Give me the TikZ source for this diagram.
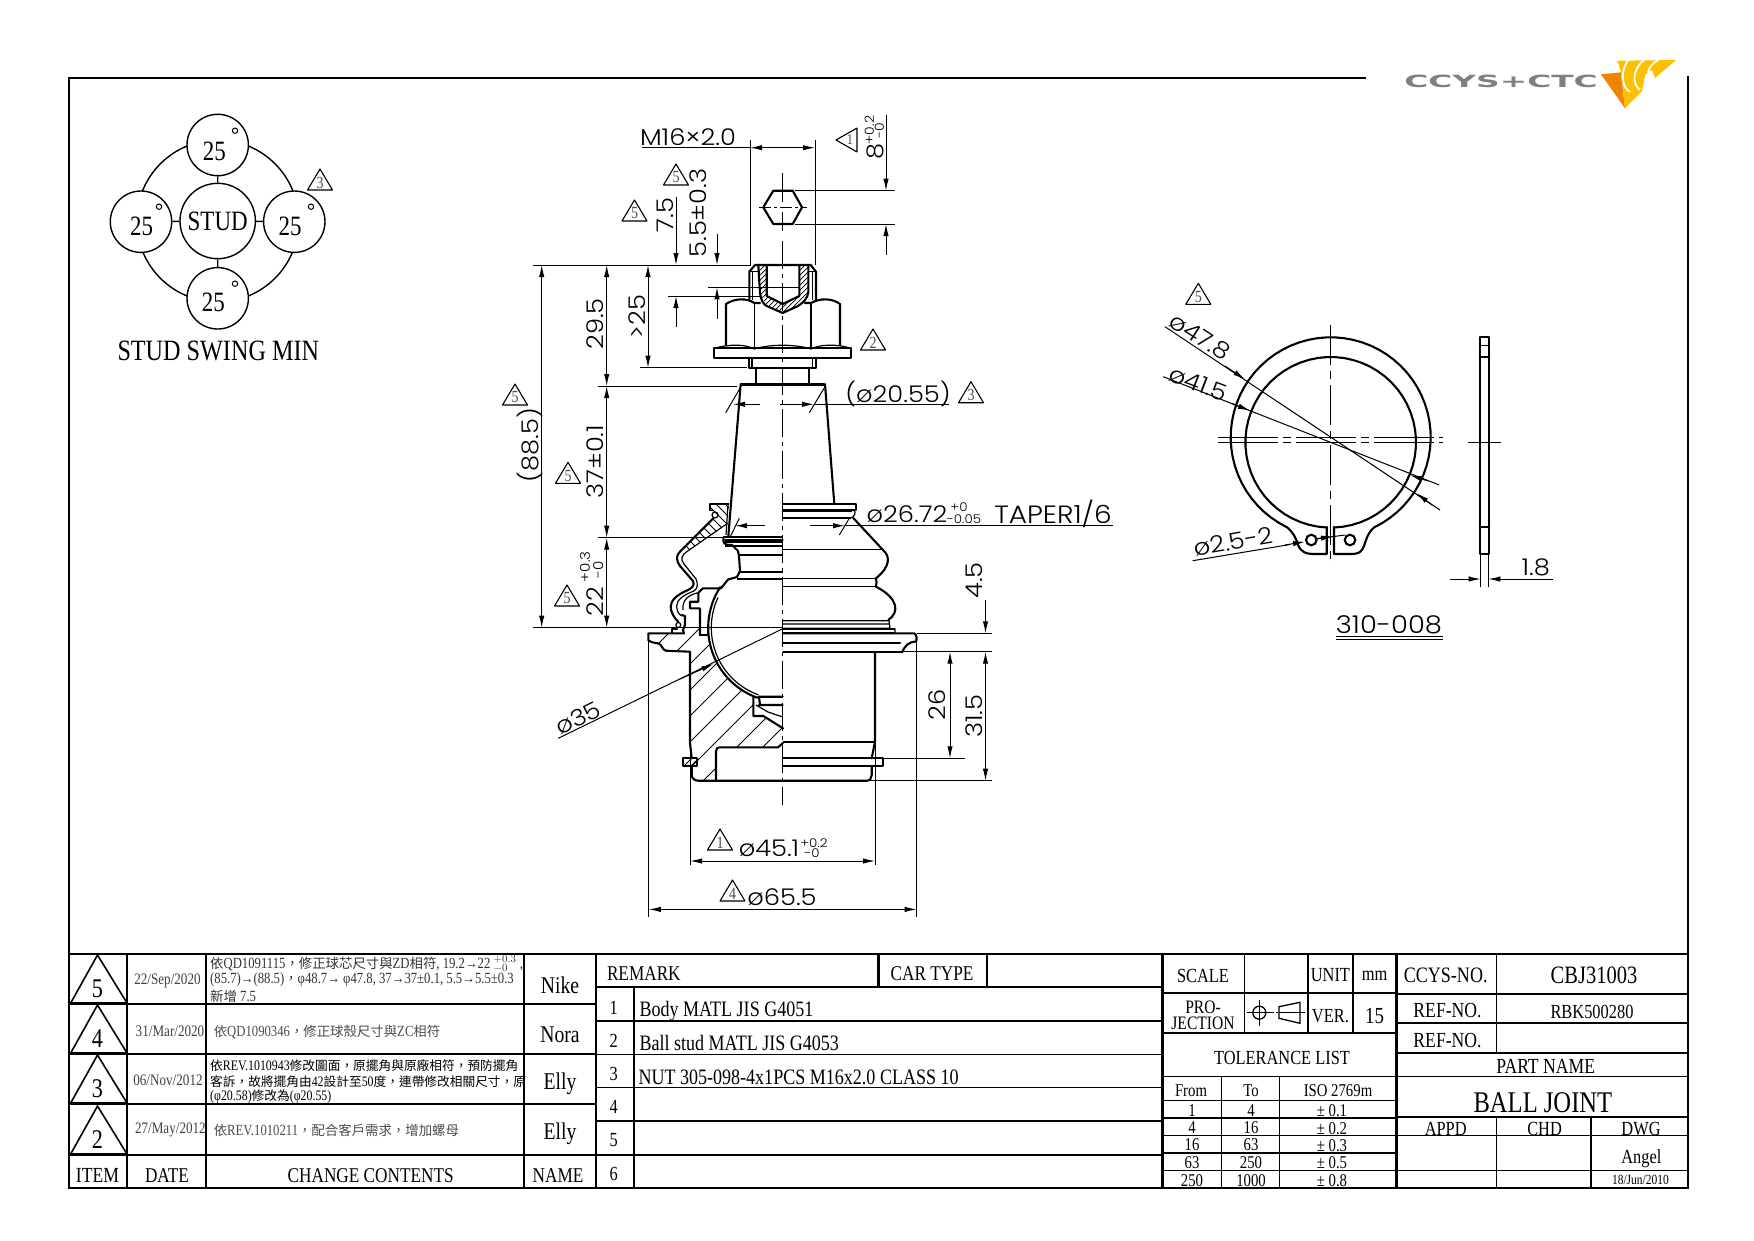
\documentclass[tikz,border=0pt]{standalone}
\usepackage{fontspec}
\setmainfont[FakeStretch=0.82]{Liberation Serif}
\newfontfamily\cjk{Noto Sans CJK TC}
\newfontfamily\cad[FakeStretch=1.12]{Poppins Light}
\newfontfamily\logofont{DejaVu Sans}
\usetikzlibrary{arrows.meta,calc}
\newcommand\T[4]{\node[inner sep=0pt,font=\fontsize{#1}{#1}\selectfont] at (#2,#3) {#4};}
\newcommand\TL[4]{\node[inner sep=0pt,anchor=west,font=\fontsize{#1}{#1}\selectfont] at (#2,#3) {#4};}
\newcommand\CD[5][0]{\node[inner sep=0pt,rotate=#1,font=\cad\fontsize{#2}{#2}\selectfont] at (#3,#4) {#5};}
\newcommand\cj[1]{{\cjk\fontsize{13.4}{13.4}\selectfont #1}}
\newcommand\cjb[1]{{\cjk\fontsize{12.7}{12.7}\selectfont #1}}
\newcommand\rev[3]{\draw[line width=1.1pt,line join=round] (#1-12.5,#2)--(#1+12.5,#2)--(#1,#2-21)--cycle;
  \node[inner sep=0pt,font=\fontsize{17}{17}\selectfont,text=black!70] at (#1,#2-7.5) {#3};}
\newcommand\bigrev[3]{\draw[tabheavy,line width=1.6pt] (70.7,#1)--(127,#1)--(97.5,#1-48)--cycle;
  \node[inner sep=0pt,font=\fontsize{27}{27}\selectfont] at (97.5,#1-14) {#2};}
\newcommand\ArcD[5]{\draw[obj] plot[domain=#4:#5,samples=60] ({#1+#3*cos(\x)},{#2+#3*sin(\x)});}
\definecolor{logoyel}{HTML}{FBC000}
\definecolor{logoorg}{HTML}{F08300}
\tikzset{
  x=1pt,y=-1pt,
  obj/.style={line width=2.1pt,line join=round,line cap=round},
  objthin/.style={line width=1.2pt,line join=round},
  dimline/.style={line width=1pt},
  hatchline/.style={line width=0.8pt},
  tabheavy/.style={line width=2.2pt,line cap=rect},
  tabthin/.style={line width=1.2pt},
  dim/.style={dimline,-{Latex[length=12pt,width=5.4pt]}},
  dimb/.style={dimline,{Latex[length=12pt,width=5.4pt]}-{Latex[length=12pt,width=5.4pt]}},
  center/.style={line width=1pt,dash pattern=on 28pt off 5pt on 4pt off 5pt},
  swing/.style={circle,draw,line width=1.4pt,minimum size=61.4pt,inner sep=0pt,fill=white},
}
\begin{document}
\begin{tikzpicture}
\useasboundingbox (0,0) rectangle (1754,1240);
% ---------- frame
\draw[tabheavy] (1365,78)--(69,78)--(69,1188)--(1688,1188)--(1688,77);
\draw[tabheavy] (69,954)--(1688,954);
% ---------- change table
\draw[tabheavy] (127,954)--(127,1188) (206,954)--(206,1188) (524,954)--(524,1188) (596,954)--(596,1188);
\draw[tabheavy] (69,1004)--(596,1004) (69,1054)--(596,1054) (69,1104)--(596,1104) (69,1155)--(596,1155);
\bigrev{1003}{5}{}\bigrev{1053}{4}{}\bigrev{1103}{3}{}\bigrev{1154}{2}{}
\T{16}{167.5}{981}{\textcolor{black!75}{22/Sep/2020}}
\T{16}{170}{1031}{\textcolor{black!75}{31/Mar/2020}}
\T{16}{168}{1080}{\textcolor{black!75}{06/Nov/2012}}
\T{16}{170.4}{1130}{\textcolor{black!75}{27/May/2012}}
\TL{15.5}{210}{964}{\textcolor{black!80}{\cj{依}QD1091115\cj{，修正球芯尺寸與}ZD\cj{相符}, 19.2→22 $^{+0.3}_{-0}$ ,}}
\TL{15.5}{210}{979.5}{\textcolor{black!80}{(85.7)→(88.5)\cj{，}φ48.7→ φ47.8, 37→37±0.1, 5.5→5.5±0.3}}
\TL{15.5}{210}{996}{\textcolor{black!80}{\cj{新增} 7.5}}
\TL{15.5}{213.6}{1032}{\textcolor{black!70}{\cj{依}QD1090346\cj{，修正球殼尺寸與}ZC\cj{相符}}}
\TL{14.5}{210}{1066}{\cjb{依}REV.1010943\cjb{修改圖面，原擺角與原廠相符，預防擺角}}
\TL{14.5}{210}{1081.3}{\cjb{客訴，故將擺角由}42\cjb{設計至}50\cjb{度，連帶修改相關尺寸，原}}
\TL{14.5}{210}{1096.7}{(φ20.58)\cjb{修改為}(φ20.55)}
\TL{15.5}{213.6}{1130}{\textcolor{black!70}{\cj{依}REV.1010211\cj{，配合客戶需求，增加螺母}}}
\T{24}{560}{985}{Nike}\T{24}{560}{1035}{Nora}\T{24}{560}{1083.5}{Elly}\T{24}{560}{1133.5}{Elly}
\T{21.5}{97.5}{1175.5}{ITEM}\T{21}{167}{1175.5}{DATE}\T{21}{370.7}{1175.5}{CHANGE CONTENTS}\T{21}{558}{1175.5}{NAME}
% ---------- remark table
\draw[tabheavy] (596,987.3)--(1162,987.3);
\draw[tabheavy] (633.6,987.3)--(633.6,1188) (878.5,954)--(878.5,987.3);
\draw[tabthin] (987,954)--(987,987.3);
\draw[tabthin] (596,1021)--(1162,1021) (596,1054.7)--(1162,1054.7) (596,1087.7)--(1162,1087.7) (596,1121)--(1162,1121) (596,1155)--(1162,1155);
\TL{21}{606.8}{973.5}{REMARK}\T{21}{932}{973.5}{CAR TYPE}
\T{20}{613.7}{1008}{1}\T{20}{613.7}{1041}{2}\T{20}{613.7}{1074}{3}\T{20}{613.7}{1107}{4}\T{20}{613.7}{1140}{5}\T{20}{613.7}{1174}{6}
\TL{22}{639.3}{1011.5}{Body MATL JIS G4051}\TL{22}{639.3}{1043}{Ball stud MATL JIS G4053}\TL{22}{638.3}{1077}{NUT 305-098-4x1PCS M16x2.0 CLASS 10}
% ---------- title block
\draw[tabheavy] (1162.5,954)--(1162.5,1188) (1396.4,954)--(1396.4,1188);
\draw[tabheavy] (1162.5,993.3)--(1396.4,993.3) (1162.5,1032.7)--(1396.4,1032.7);
\draw[tabheavy] (1308,954)--(1308,1032.7);
\draw[tabthin,line width=1.6pt] (1244.6,954)--(1244.6,1032.7) (1353,954)--(1353,1032.7);
\draw[tabthin] (1162.5,1076.7)--(1396.4,1076.7) (1162.5,1100.7)--(1396.4,1100.7) (1162.5,1118)--(1396.4,1118) (1162.5,1135.7)--(1396.4,1135.7) (1162.5,1153)--(1396.4,1153) (1162.5,1170.7)--(1396.4,1170.7);
\draw[tabthin] (1221.4,1076.7)--(1221.4,1188) (1279.6,1076.7)--(1279.6,1188);
\draw[tabheavy,line width=1.8pt] (1396.4,994)--(1688,994) (1396.4,1022.7)--(1688,1022.7) (1396.4,1053.3)--(1688,1053.3) (1396.4,1117.3)--(1688,1117.3);
\draw[tabthin] (1396.4,1076.7)--(1688,1076.7) (1396.4,1135.7)--(1688,1135.7) (1396.4,1170.7)--(1688,1170.7);
\draw[tabthin,line width=1.6pt] (1496.4,954)--(1496.4,1053.3) (1496.4,1117.3)--(1496.4,1188) (1591,1117.3)--(1591,1188);
\T{20}{1203}{975.5}{SCALE}\T{20}{1330.4}{975.5}{UNIT}\T{20}{1374.6}{975.5}{mm}\T{22}{1445.7}{975.5}{CCYS-NO.}\T{25}{1594}{975.5}{CBJ31003}
\T{19}{1203}{1007}{PRO-}\T{19}{1203}{1023}{JECTION}\T{20}{1330.4}{1016.5}{VER.}\T{23}{1374.6}{1016}{15}
\T{21.5}{1447.5}{1011}{REF-NO.}\T{20}{1592}{1012}{RBK500280}\T{21.5}{1447.5}{1041}{REF-NO.}
\T{20}{1282}{1057.5}{TOLERANCE LIST}\T{21.5}{1545.7}{1066.5}{PART NAME}\T{30}{1542.9}{1102.5}{BALL JOINT}
\T{20}{1445.7}{1128.5}{APPD}\T{20}{1544.6}{1128.5}{CHD}\T{20}{1641}{1129.5}{DWG}\T{20}{1641.4}{1158.5}{Angel}\T{14}{1640.4}{1179.5}{18/Jun/2010}
\T{18}{1191}{1091}{From}\T{18}{1251}{1091}{To}\T{18}{1338}{1090.5}{ISO 2769m}
\T{18}{1192}{1110.5}{1}\T{18}{1251}{1110.5}{4}\T{18}{1332}{1111}{± 0.1}
\T{18}{1192}{1128}{4}\T{18}{1251}{1128}{16}\T{18}{1332}{1128.5}{± 0.2}
\T{18}{1192}{1145}{16}\T{18}{1251}{1145}{63}\T{18}{1332}{1145.5}{± 0.3}
\T{18}{1192}{1163}{63}\T{18}{1251}{1163}{250}\T{18}{1332}{1163}{± 0.5}
\T{18}{1192}{1181}{250}\T{18}{1251}{1181}{1000}\T{18}{1332}{1181}{± 0.8}
% projection symbol
\draw[line width=1.3pt] (1259.3,1012.7) circle[radius=6.5];
\draw[dimline] (1246.5,1012.7)--(1273.5,1012.7) (1259.3,1000)--(1259.3,1026) (1276,1012.7)--(1278,1012.7) (1279,1012.7)--(1304.6,1012.7);
\draw[line width=1.3pt] (1279,1006.7)--(1300,1002.3)--(1300,1023.3)--(1279,1018.3)--cycle;
% ---------- logo
\node[inner sep=0pt,text=black!50,font=\logofont\bfseries\fontsize{16}{16}\selectfont,xscale=2.05,yscale=1.05] at (1501,81) {CCYS+CTC};
\fill[logoorg] (1601,74.3)--(1620.7,72.3)--(1625,108.3)--cycle;
\fill[logoyel] (1617.3,60.7)--(1676,60)--(1655,78)--(1652,70)--(1645,75)--(1642,91)--(1625,108.3)--(1621,72)--cycle;
\draw[white,line width=1.8pt] (1628,60) .. controls (1620,72) and (1622,88) .. (1630,92);
\draw[white,line width=1.8pt] (1644,60) .. controls (1632,70) and (1632,84) .. (1640,90);
\draw[white,line width=1.8pt] (1658,60) .. controls (1648,66) and (1646,74) .. (1650,80);
% ---------- stud swing
\draw[line width=1.4pt] (217.7,221) circle[radius=81];
\node[swing] (top) at (217.7,145) {};
\node[swing] (bot) at (217.7,298.3) {};
\node[swing] (lft) at (141,221.7) {};
\node[swing] (rgt) at (294.3,221.7) {};
\node[swing,minimum size=75.4pt,font=\fontsize{28}{28}\selectfont] (stud) at (217.7,221) {STUD};
\draw[line width=1.4pt] (stud)--(top) (stud)--(bot) (stud)--(lft) (stud)--(rgt);
\T{28}{214.3}{151}{25}\T{28}{141.7}{226.7}{25}\T{28}{290}{226.7}{25}\T{28}{213.3}{302.3}{25}
\draw[dimline] (235,130.7) circle[radius=2.7] (159,206.7) circle[radius=2.7] (311,206.7) circle[radius=2.7] (235,283.7) circle[radius=2.7];
\T{29.5}{218.3}{351}{STUD SWING MIN}
\rev{320}{190}{3}
% ---------- main view: hatching
\begin{scope}
 \clip (648.3,633.3)--(685,633.3)--(699,608)--(700,635)--(708,635)--(711,640) -- plot[domain=180:110,samples=40] ({782.7+74.5*cos(\x)},{627.7+74.5*sin(\x)}) -- (753.3,697.3)--(753.3,716)--(763.3,716)--(783,728.3)--(783,743)--(778.3,747.3)--(720,747.3)--(716,752)--(716,780.7)--(698.3,780.7)--(691.7,775)--(691.7,758.3)--(690,743)--(690,651.7)--(665,650.7)--(660,644)--(650,641)--cycle;
 \foreach \d in {450,476,...,760} \draw[hatchline] (\d,800)--(\d+350,450);
\end{scope}
\begin{scope}
 \clip (758.3,265)--(760,293)--(766.7,306)--(782.7,313)--(798,306)--(808.3,292)--(808.3,265)--(799.3,265)--(799.3,296)--(782.7,304)--(766.7,296)--(766.7,265)--cycle;
 \foreach \d in {1020,1025,...,1130} \draw[line width=0.7pt] (\d-240,240)--(\d-330,330);
\end{scope}
\begin{scope}
 \clip (682.7,757.7) rectangle (696.7,766);
 \foreach \d in {680,687,...,710} \draw[hatchline] (\d,770)--(\d+20,750);
\end{scope}
\begin{scope}
 \clip (713.3,518.3)--(680,551.7)--(686.7,551.7)--(728,523)--(729,504)--(710,504)--(710,510)--cycle;
 \foreach \d in {640,649,...,800} \draw[hatchline] (\d,500)--(\d+60,560);
\end{scope}
% ---------- nut / stud top
\draw[obj] (758.3,265)--(760,293) .. controls (761,300) and (763,304) .. (766.7,306)--(782.7,313)--(798,306) .. controls (803,303) and (808,298) .. (808.3,292)--(808.3,265);
\draw[obj] (766.7,265)--(766.7,296)--(782.7,304)--(799.3,296)--(799.3,265);
\draw[obj] (749.3,300)--(749.3,271.7)--(755,265)--(810.7,265)--(816,271.7)--(816,300);
\draw[objthin] (749.3,271.7)--(758,271.7) (808,271.7)--(816,271.7) (752.3,272)--(752.3,300) (812.7,272)--(812.7,300);
\draw[obj] (726,345)--(726,304) .. controls (735,298) and (747,298) .. (754.3,303)--(760,303);
\draw[obj] (805,303)--(811,303) .. controls (820,298) and (832,298) .. (840,304)--(840,345);
\draw[objthin] (754.3,303)--(754.3,349) (811,303)--(811,349);
\draw[obj] (714,348.3)--(851,348.3)--(851,357.7)--(714,357.7)--cycle;
\draw[objthin] (714,348.3) .. controls (730,344) and (745,344) .. (754.3,349) .. controls (770,344) and (795,344) .. (811,349) .. controls (820,344) and (838,344) .. (851,348.3);
\draw[obj] (749.3,357.7)--(749.3,367.7)--(816,367.7)--(816,357.7);
\draw[objthin] (752,357.7)--(752,367.7) (812.7,357.7)--(812.7,367.7);
\draw[obj] (756,367.7)--(756,383) (809.3,367.7)--(809.3,383);
\draw[line width=3pt] (740.7,384)--(824,384);
\draw[obj] (740.7,384)--(728.3,536.7) (825,384)--(834.3,504);
% hex top view
\draw[obj] (763.3,207.3)--(773.3,190.7)--(792.7,190.7)--(802,207.3)--(792.7,224)--(773.3,224)--cycle;
\draw[center,dash pattern=on 12pt off 3pt on 3pt off 3pt] (759,207.3)--(806.7,207.3);
\draw[dimline] (782.7,173)--(782.7,202) (782.7,212)--(782.7,230.7);
\draw[center] (782.7,240.7)--(782.7,805);
% ---------- stud section left
\draw[obj] (725,540)--(782.7,540);
\draw[line width=2.2pt] (723.3,537.3)--(782.7,537.3) (725,541.7)--(782.7,541.7) (725,545.7)--(782.7,545.7);
\draw[obj] (723.3,537.3)--(723.3,541) .. controls (724,545) and (728,545) .. (732,545) -- (738,551)--(739,556)--(740,571)--(737,577)--(728,579.5)--(721,588.3);
\draw[objthin] (740,555)--(782.7,555) (737,579)--(782.7,579);
\draw[line width=2pt] (740,571.7)--(782.7,571.7);
% boot left section
\draw[obj] (713.3,518.3)--(680,551.7) .. controls (676,555) and (676,561) .. (680,566) -- (693,581) .. controls (695,585) and (692,588) .. (688,590) .. controls (676,595) and (670.7,601) .. (670.7,606.7) .. controls (670.7,612) and (674,618) .. (678.3,621.7);
\draw[objthin] (728,523)--(686.7,551.7) .. controls (682,555) and (680,559) .. (684,564) -- (696,579) .. controls (698,584) and (698,588) .. (694,591);
\draw[objthin] (694,591) .. controls (683,595) and (676.7,600) .. (676.7,606) .. controls (676.7,610) and (678,614) .. (681.7,616);
\draw[objthin] (698.3,592.7) .. controls (688,595) and (682,600) .. (683,610);
\draw[obj] (710,510)--(710,504)--(728.5,504);
\draw[objthin] (710,510)--(714,510.7) (728,505)--(726,535);
\draw[objthin] (715,515) circle[radius=3];
\draw[objthin] (678.3,625) circle[radius=2.5];
\draw[obj] (681.7,615)--(685,616)--(685,625)--(683,630)--(684,633.3);
\draw[obj] (671.7,633.3)--(671.7,629.3)--(677,629.3);
% ---------- socket / body left
\draw[obj] (700,635)--(700,608.3)--(690,608.3)--(690,601.7)--(698.3,601.7)--(698.3,592.7)--(702.7,588.3)--(721,588.3);
\draw[obj] (700,635)--(708,635)--(708,626);
\ArcD{782.7}{627.7}{74.5}{110}{213}
\draw[objthin] plot[domain=110:205,samples=60] ({782.7+71.4*cos(\x)},{627.7+71.4*sin(\x)});
\draw[obj] (684,633.3)--(648.3,633.3)--(648.3,640) .. controls (650,642) and (654,643) .. (658,643.3) .. controls (662,644) and (662,650) .. (666,650.7)--(690,651.7)--(690,743)--(691.7,758.3);
\draw[obj] (691.7,766)--(691.7,775) .. controls (692,779) and (695,780.7) .. (698.3,780.7)--(866.7,780.7) .. controls (870,780.7) and (871.7,778) .. (871.7,775)--(871.7,766);
\draw[obj] (716,780.7)--(716,751) .. controls (716,748) and (718,747.3) .. (720,747.3)--(778,747.3)--(783,743);
\draw[objthin,line width=1.6pt] (682.7,757.7) rectangle (696.7,766);
% plug
\draw[obj] (753.3,697.3)--(753.3,716)--(763.3,716)--(783,728.3);
\draw[obj] (758.3,696.7)--(782.7,696.7) (759,705)--(782.7,705) (759,696.7)--(760,705);
\draw[objthin] (756,705)--(768,712)--(782.7,717);
% ---------- right half
\draw[obj] (782.7,504)--(856,504)--(856,510)--(782.7,510);
\draw[line width=2.2pt] (782.7,511)--(852,511) (782.7,518)--(851,518);
\draw[objthin] (854,510) .. controls (856,513) and (855,516) .. (851,518);
\draw[obj] (853,517.7)--(883,550) .. controls (890,556) and (891,566) .. (876,578.3)--(876.5,582)--(876,586.7) .. controls (898,598) and (900,612) .. (888.3,620);
\draw[objthin] (782.7,549.3)--(883,549.3) (782.7,578.3)--(876,578.3) (782.7,586.7)--(876,586.7);
\draw[objthin] (782.7,620.7)--(888.3,620.7) (782.7,624)--(889,624) (889,620)--(890,628.3) (782.7,628.3)--(890,628.3) (895,628.3)--(895,632.7);
\draw[line width=1.8pt] (782.7,628.7)--(895,628.7) (782.7,632.7)--(895,632.7);
\draw[obj] (782.7,633.3)--(914,633.3) .. controls (917,633.5) and (917,641) .. (916,641.5) .. controls (908,642) and (905,646) .. (902,652.3);
\draw[obj] (782.7,643.3)--(900,643.3);
\draw[line width=2.2pt] (782.7,652.3)--(901.7,652.3);
\draw[obj] (875,652.3)--(875,741.7)--(871.7,758.3);
\draw[line width=2.2pt] (782.7,741.7)--(875,741.7);
\draw[obj] (782.7,758.3)--(882.7,758.3)--(882.7,766)--(782.7,766);
% ---------- dimensions : extension lines
\draw[dimline] (533,265)--(751,265) (598,386)--(736.7,386) (640,367.7)--(746.7,367.7) (598,537.7)--(725,537.7) (533,627.7)--(782.7,627.7);
\draw[dimline] (668,296)--(760,296) (708,287.3)--(800,287.3);
\draw[dimline] (750,140)--(750,265) (815,140)--(815,265);
\draw[dimline] (795,190.7)--(895,190.7) (795,224)--(895,224);
\draw[dimline] (690,651.7)--(690,865) (875,741.7)--(875,865) (648.8,640)--(648.8,917) (916.7,641)--(916.7,917);
\draw[dimline] (917,633.3)--(992,633.3) (903,651.7)--(992,651.7) (883,758.3)--(965,758.3) (867,780.7)--(992,780.7);
% dims
\draw[dimb] (541.7,265)--(541.7,627.7);
\draw[dimb] (606.7,265)--(606.7,386);
\draw[dimb] (606.7,386)--(606.7,537.7);
\draw[dimb] (606.7,537.7)--(606.7,627.7);
\draw[dimb] (648,265)--(648,367.7);
\draw[dim] (676,196.7)--(676,265);
\draw[dim] (717,234)--(717,265);
\draw[dim] (676,327)--(676,296);
\draw[dim] (717,319)--(717,287.3);
\draw[dim] (886,115)--(886,190.7);
\draw[dim] (886,255)--(886,224);
\draw[dimline] (641.7,147.7)--(750,147.7);
\draw[dimb] (750,147.7)--(815,147.7);
\CD{23}{688}{137}{M16×2.0}
\CD[90]{23}{698}{213}{5.5±0.3}
\CD[90]{23}{665}{215}{7.5}
\CD[90]{23}{875}{151.7}{8}
\CD[90]{12.5}{869.3}{130}{+0.2}
\CD[90]{12.5}{879.3}{131}{-0}
\CD[90]{23}{595}{324}{29.5}
\CD[90]{23}{636.7}{316.7}{>25}
\CD[90]{23}{595}{461.7}{37±0.1}
\CD[90]{23}{595}{601.7}{22}
\CD[90]{13.5}{585}{566.7}{+0.3}
\CD[90]{13.5}{598.3}{570}{-0}
\CD[90]{23}{530}{445}{(88.5)}
\rev{676}{185}{5}\rev{634.5}{221}{5}\rev{515}{405}{5}\rev{568}{483.3}{5}\rev{567}{606}{5}
\rev{873}{350}{2}
\rev{971}{402.7}{3}
\rev{1198.3}{304.3}{5}
\begin{scope}[shift={(847,140)},rotate=90]
 \draw[line width=1.1pt,line join=round] (-12,10)--(12,10)--(0,-11)--cycle;
 \node[inner sep=0pt,font=\fontsize{15}{15}\selectfont,text=black!70] at (0,3) {1};
\end{scope}
% phi 20.55
\draw[dimline] (725.7,412.7)--(740,388.3) (809.3,412.7)--(824,388.3);
\draw[dim] (760,404.3)--(733,404.3);
\draw[dim] (780,404.3)--(814,404.3);
\draw[dimline] (814,404.3)--(948.6,404.3);
\CD{23}{898}{394}{(ø20.55)}
% phi 26.72
\draw[dimline] (730,537.3)--(739.3,518.3) (839.3,535)--(849.3,518.3);
\draw[dim] (765,525.7)--(735,525.7);
\draw[dim] (810,525.7)--(845,525.7);
\draw[dimline] (845,525.7)--(1113,525.7);
\CD{23}{907}{514}{ø26.72}
\CD{12}{959}{507.5}{+0}
\CD{12}{964}{519}{-0.05}
\CD{25}{1053}{514}{TAPER1/6}
% phi 35
\draw[dimline] (558.2,738.3)--(783,628.6);
\draw[dim] (680,679)--(713.3,664);
\CD[26]{23}{578}{718}{ø35}
% phi 45.1, 65.5
\draw[dimb] (690,861)--(875,861);
\CD{23}{769}{848}{ø45.1}
\CD{12}{814}{843}{+0.2}
\CD{12}{812}{853}{-0}
\rev{720}{850}{1}
\draw[dimb] (648.8,909.4)--(916.7,909.4);
\CD{23}{782}{897}{ø65.5}
\rev{732.5}{901}{4}
% right dims
\draw[dim] (985.5,600)--(985.5,633.3);
\draw[dimb] (985.5,651.7)--(985.5,780.7);
\draw[dimb] (950,651.7)--(950,758.3);
\CD[90]{23}{974}{580.5}{4.5}
\CD[90]{23}{937.4}{704.7}{26}
\CD[90]{23}{974}{716}{31.5}
% ---------- snap ring
\ArcD{1330.7}{437.3}{100}{116.2}{423.8}
\ArcD{1330.7}{442.3}{85.3}{92.7}{447.8}
\draw[obj] (1286.7,527) .. controls (1293,532) and (1296,538) .. (1298,545) .. controls (1301,552) and (1306,554) .. (1313.3,554)--(1326.7,554)--(1326.7,527);
\draw[obj] (1374.7,527) .. controls (1368,532) and (1366,540) .. (1364,546) .. controls (1362,552) and (1358,554) .. (1352,554)--(1334,554)--(1334,527);
\draw[obj] (1311.3,540) circle[radius=5.3] (1350,540) circle[radius=5.3];
\draw[center,dash pattern=on 40pt off 6pt on 8pt off 6pt] (1330.7,325)--(1330.7,565);
\draw[center,dash pattern=on 60pt off 5pt on 8pt off 5pt] (1218.3,437.3)--(1443.3,437.3) (1218.3,442.3)--(1443.3,442.3);
\draw[dimline] (1165,326.7)--(1440,510);
\draw[dimline] (1163.3,376.7)--(1439.3,485);
\draw[dim] (1225,366)--(1245,379.3);
\draw[dim] (1232,403.5)--(1250,410.7);
\draw[dim] (1432,505)--(1416.7,493.3);
\draw[dim] (1428,481)--(1410,475);
\draw[dimline] (1192.7,560.7)--(1290,544.5);
\draw[dim] (1285,545)--(1305,541.7);
\draw[dimline] (1315,539)--(1345,535);
\draw[dim] (1315,539)--(1333,536.5);
\CD[-33]{23}{1200}{336.7}{ø47.8}
\CD[-21]{23}{1198.3}{383.3}{ø41.5}
\CD[10]{23}{1233.3}{541.7}{ø2.5-2}
% side view
\draw[obj] (1480,337.3) rectangle (1489.3,554);
\draw[obj] (1480,356.7)--(1489.3,356.7) (1480,527.3)--(1489.3,527.3);
\draw[dimline] (1468.3,442.3)--(1501,442.3);
\draw[dimline] (1481,345)--(1488,345);
\draw[dimline] (1480.7,554)--(1480.7,586.7) (1488.3,554)--(1488.3,586.7);
\draw[dim] (1450,579)--(1480.7,579);
\draw[dim] (1552.7,579)--(1488.3,579);
\CD{23}{1535.7}{567.7}{1.8}
\CD{24.5}{1389}{625}{310-008}
\draw[dimline] (1336,636)--(1443.3,636) (1336,639.3)--(1443.3,639.3);
\end{tikzpicture}
\end{document}
